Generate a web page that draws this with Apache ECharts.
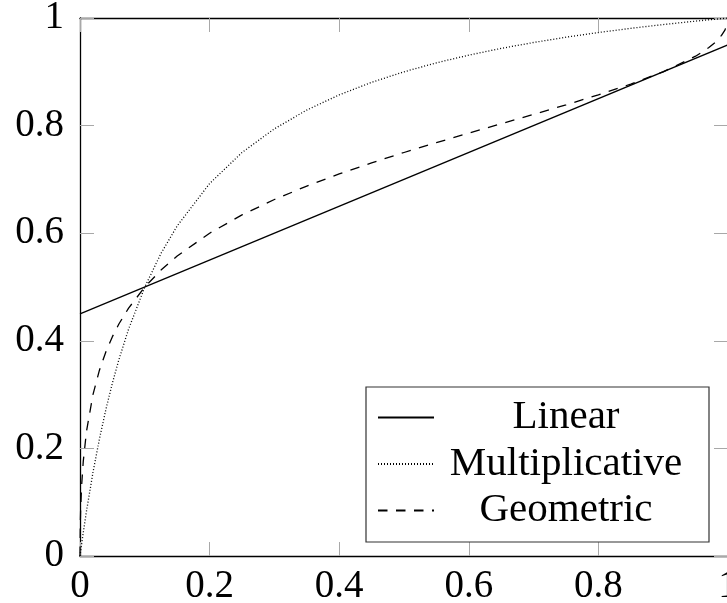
<!DOCTYPE html>
<html>
<head>
<meta charset="utf-8">
<script src="https://cdn.jsdelivr.net/npm/echarts@6/dist/echarts.min.js"></script>
<style>html,body{margin:0;padding:0;background:#fff}#c{width:727px;height:603px}</style>
</head>
<body>
<div id="c"></div>
<script>
const seriesNames = ['Linear', 'Multiplicative', 'Geometric'];

const xLinear = [0, 1];
const yLinear = [0.45, 0.95];

const xMult = [0, 0.005, 0.01, 0.02, 0.03, 0.04, 0.05, 0.06, 0.075, 0.1, 0.125, 0.15, 0.2, 0.25, 0.3, 0.35, 0.4, 0.45, 0.5, 0.55, 0.6, 0.65, 0.7, 0.75, 0.8, 0.85, 0.9, 0.95, 1];
const yMult = [0, 0.0433, 0.0833, 0.1552, 0.2177, 0.2727, 0.3214, 0.3649, 0.4219, 0.5, 0.5625, 0.6136, 0.6923, 0.75, 0.7941, 0.8289, 0.8571, 0.8804, 0.9, 0.9167, 0.931, 0.9435, 0.9545, 0.9643, 0.973, 0.9808, 0.9878, 0.9942, 1];

const xGeom = [0, 0.0005, 0.001, 0.0025, 0.005, 0.01, 0.02, 0.03, 0.04, 0.05, 0.06, 0.075, 0.1, 0.125, 0.15, 0.2, 0.25, 0.3, 0.35, 0.4, 0.45, 0.5, 0.55, 0.6, 0.65, 0.7, 0.75, 0.8, 0.85, 0.9, 0.95, 0.97, 0.98, 0.99, 0.995, 0.999, 1];
const yGeom = [0, 0.0629, 0.0867, 0.1306, 0.1754, 0.2317, 0.3, 0.3454, 0.3798, 0.4077, 0.4312, 0.4607, 0.5, 0.5314, 0.5576, 0.6, 0.634, 0.6626, 0.6876, 0.7101, 0.7307, 0.75, 0.7683, 0.7861, 0.8035, 0.8209, 0.8386, 0.8571, 0.8772, 0.9, 0.929, 0.9446, 0.9545, 0.9676, 0.9769, 0.9896, 1];

const tickValues = [0, 0.2, 0.4, 0.6, 0.8, 1];

function pairs(xs, ys) { return xs.map((x, i) => [x, ys[i]]); }

const FONT = 'Liberation Serif';
const tickColor = '#a8a8a8';

function fmt(v) { return String(Math.round(v * 10) / 10); }

function mkX(pos, showLabel) {
  return {
    type: 'value', position: pos, min: 0, max: 1, interval: 0.2,
    axisLine: { show: true, onZero: false, lineStyle: { color: '#000', width: 1.3 } },
    axisTick: { show: true, inside: true, length: 14, lineStyle: { color: tickColor, width: 1 } },
    splitLine: { show: false },
    axisLabel: { show: showLabel, fontFamily: FONT, fontSize: 39, color: '#000', margin: 11, formatter: fmt }
  };
}
function mkY(pos, showLabel) {
  return {
    type: 'value', position: pos, min: 0, max: 1, interval: 0.2,
    axisLine: { show: true, onZero: false, lineStyle: { color: '#000', width: 1.3 } },
    axisTick: { show: true, inside: true, length: 14, lineStyle: { color: tickColor, width: 1 } },
    splitLine: { show: false },
    axisLabel: { show: showLabel, fontFamily: FONT, fontSize: 39, color: '#000', margin: 16, formatter: fmt }
  };
}

const chart = echarts.init(document.getElementById('c'), null, { renderer: 'canvas' });
chart.setOption({
  animation: false,
  backgroundColor: '#fff',
  grid: { left: 80, top: 18, right: -1, bottom: 47, containLabel: false, outerBoundsMode: 'none' },
  xAxis: [mkX('bottom', true), mkX('top', false)],
  yAxis: [mkY('left', true), mkY('right', false)],
  legend: {
    orient: 'vertical', left: 366, top: 387,
    padding: [10, 16, 11, 11], itemGap: 5.5, itemWidth: 56, itemHeight: 20,
    backgroundColor: '#fff', borderColor: '#333', borderWidth: 1.2, borderRadius: 0,
    data: seriesNames,
    itemStyle: { opacity: 0, color: 'rgba(0,0,0,0)', borderWidth: 0 },
    formatter: name => '{c|' + name + '}',
    textStyle: { color: '#000', rich: { c: { width: 254, align: 'center', fontFamily: FONT, fontSize: 41, lineHeight: 40, color: '#000' } } }
  },
  series: [
    { name: seriesNames[0], type: 'line', xAxisIndex: 0, yAxisIndex: 0, symbol: 'none', smooth: false,
      itemStyle: { color: '#000' },
      data: pairs(xLinear, yLinear), lineStyle: { color: '#000', width: 1.3, type: 'solid' } },
    { name: seriesNames[1], type: 'line', xAxisIndex: 0, yAxisIndex: 0, symbol: 'none', smooth: false,
      itemStyle: { color: '#000' },
      data: pairs(xMult, yMult), lineStyle: { color: '#000', width: 1.3, type: [1, 2] } },
    { name: seriesNames[2], type: 'line', xAxisIndex: 0, yAxisIndex: 0, symbol: 'none', smooth: false,
      itemStyle: { color: '#000' },
      data: pairs(xGeom, yGeom), lineStyle: { color: '#000', width: 1.3, type: [9.5, 8.5] } }
  ]
});
</script>
</body>
</html>
